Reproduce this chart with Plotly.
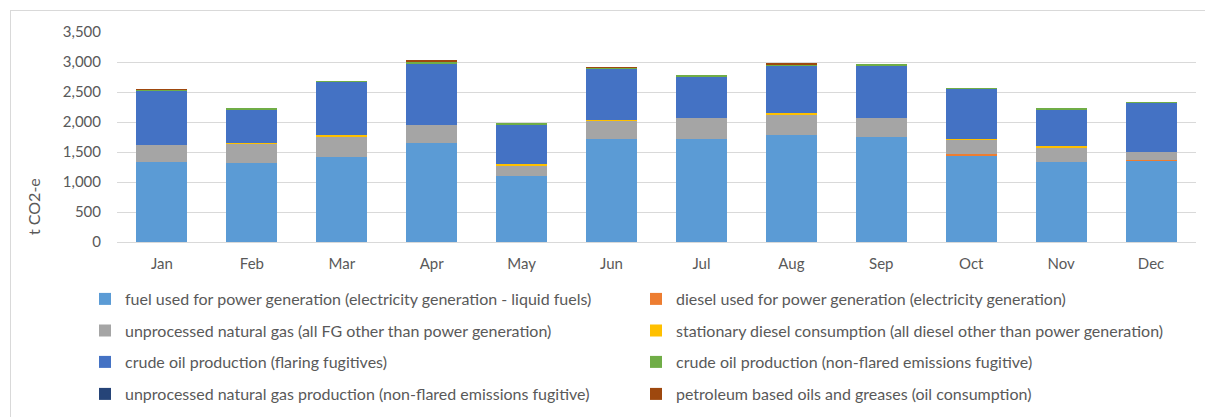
import plotly.graph_objects as go

months = ["Jan", "Feb", "Mar", "Apr", "May", "Jun", "Jul", "Aug", "Sep", "Oct", "Nov", "Dec"]

fuel_power = [1335, 1325, 1410, 1650, 1100, 1725, 1725, 1790, 1745, 1445, 1338, 1360]
diesel_power = [0, 0, 0, 0, 8, 0, 0, 0, 0, 15, 0, 12]
unprocessed_gas = [285, 310, 355, 300, 155, 295, 350, 330, 315, 240, 240, 135]
stationary_diesel = [4, 15, 25, 0, 40, 18, 0, 25, 0, 15, 15, 0]
crude_flaring = [900, 560, 880, 1030, 650, 850, 675, 795, 885, 835, 615, 810]
crude_nonflared = [15, 10, 12, 30, 15, 15, 20, 20, 15, 15, 15, 15]
gas_production = [0, 0, 0, 0, 0, 0, 0, 0, 0, 0, 0, 0]
oils_greases = [8, 0, 0, 12, 0, 12, 0, 12, 0, 0, 0, 0]

series_names = [
    "fuel used for power generation (electricity generation - liquid fuels)",
    "diesel used for power generation (electricity generation)",
    "unprocessed natural gas (all FG other than power generation)",
    "stationary diesel consumption (all diesel other than power generation)",
    "crude oil production (flaring fugitives)",
    "crude oil production (non-flared emissions fugitive)",
    "unprocessed natural gas production (non-flared emissions fugitive)",
    "petroleum based oils and greases (oil consumption)",
]
series_values = [fuel_power, diesel_power, unprocessed_gas, stationary_diesel,
                 crude_flaring, crude_nonflared, gas_production, oils_greases]
colors = ["#5B9BD5", "#ED7D31", "#A5A5A5", "#FFC000",
          "#4472C4", "#70AD47", "#264478", "#9E480E"]

FONT = "Lato"
TXT = "#595959"

# plot area in pixels
L, R, T, B = 117, 1196, 32, 242
W = R - L
H = B - T

def px_x(p):
    return (p - L) / W

def px_y(p):
    return (B - p) / H

legend_ids = ["legend"] + [f"legend{i}" for i in range(2, 9)]
row_y = [299, 330.5, 362, 394]
col_x = [85, 636]

fig = go.Figure()
for i, (name, vals, col) in enumerate(zip(series_names, series_values, colors)):
    fig.add_trace(go.Bar(
        x=months, y=vals, name=name,
        marker=dict(color=col, line=dict(width=0)),
        legend=legend_ids[i],
        hovertemplate="%{x}: %{y:,}<extra>" + name + "</extra>",
    ))

layout_legends = {}
for k, lid in enumerate(legend_ids):
    layout_legends[lid] = dict(
        orientation="h",
        x=px_x(col_x[k % 2]), xanchor="left",
        y=px_y(row_y[k // 2]), yanchor="middle",
        font=dict(family=FONT, size=16, color=TXT),
        bgcolor="rgba(0,0,0,0)",
        itemwidth=30,
    )

fig.update_layout(
    width=1205, height=417,
    margin=dict(l=L, r=1205 - R, t=T, b=417 - B, autoexpand=False),
    paper_bgcolor="white", plot_bgcolor="white",
    barmode="stack", bargap=0.433,
    font=dict(family=FONT, size=15, color=TXT),
    showlegend=True,
    **layout_legends,
    xaxis=dict(
        showgrid=False, showline=True, linecolor="#D9D9D9", linewidth=1,
        ticks="outside", ticklen=8, tickcolor="rgba(0,0,0,0)",
        tickfont=dict(family=FONT, size=15, color=TXT),
        fixedrange=True,
    ),
    yaxis=dict(
        range=[0, 3500], dtick=500, tickformat=",",
        showgrid=True, gridcolor="#D9D9D9", gridwidth=1,
        zeroline=False, showline=False,
        ticks="outside", ticklen=12, tickcolor="rgba(0,0,0,0)",
        tickfont=dict(family=FONT, size=15, color=TXT),
        fixedrange=True,
    ),
    annotations=[dict(
        text="t CO2-e", textangle=-90,
        xref="paper", yref="paper",
        x=px_x(33), y=px_y(207), xanchor="center", yanchor="middle",
        showarrow=False, font=dict(family=FONT, size=16, color=TXT),
    )],
    shapes=[
        dict(type="line", xref="paper", yref="paper",
             x0=px_x(10), x1=px_x(1210), y0=px_y(10.5), y1=px_y(10.5),
             line=dict(color="#D9D9D9", width=1)),
        dict(type="line", xref="paper", yref="paper",
             x0=px_x(10.5), x1=px_x(10.5), y0=px_y(10), y1=px_y(420),
             line=dict(color="#D9D9D9", width=1)),
    ],
)

fig.write_html(
    "out.html",
    config={"displayModeBar": False},
    post_script="document.body.style.margin='0';document.body.style.overflow='hidden';",
)
